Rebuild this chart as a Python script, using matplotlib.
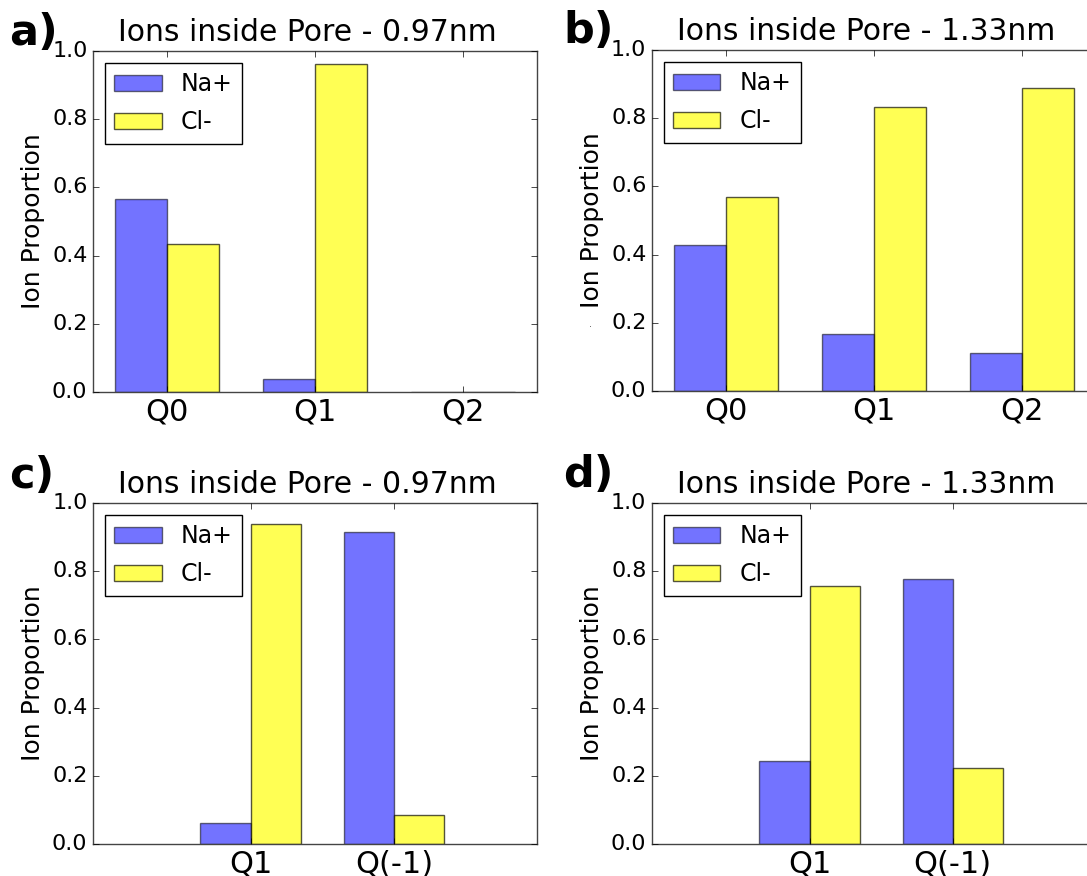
#bar charts of ion proportions inside the pore, two pore sizes x two charge sets
import numpy as np
import matplotlib
matplotlib.use('Agg')
import matplotlib.pyplot as plt

plt.style.use('classic')
plt.rcParams['font.family'] = ['DejaVu Sans']
plt.rcParams['figure.facecolor'] = 'white'
plt.rcParams['savefig.facecolor'] = 'white'

#charge states on the top row (a, b) and bottom row (c, d)
cats_top = ['Q0', 'Q1', 'Q2']
cats_bot = ['Q1', 'Q(-1)']

#proportion of Na+ / Cl- found inside the pore
na_a = [0.566, 0.037, 0.0]
cl_a = [0.433, 0.963, 0.0]
na_b = [0.429, 0.167, 0.110]
cl_b = [0.570, 0.833, 0.889]
na_c = [0.062, 0.914]
cl_c = [0.937, 0.085]
na_d = [0.243, 0.776]
cl_d = [0.756, 0.222]

titles = ['Ions inside Pore - 0.97nm', 'Ions inside Pore - 1.33nm',
          'Ions inside Pore - 0.97nm', 'Ions inside Pore - 1.33nm']
letters = ['a)', 'b)', 'c)', 'd)']

width = 0.35

fig = plt.figure(figsize=(10.87, 8.76), dpi=100)
boxes = [[0.0856, 0.5525, 0.4085, 0.3893],
         [0.5998, 0.5537, 0.4085, 0.3893],
         [0.0856, 0.0365, 0.4085, 0.3893],
         [0.5998, 0.0365, 0.4085, 0.3893]]
panels = [(cats_top, na_a, cl_a, (-0.5, 2.5)),
          (cats_top, na_b, cl_b, (-0.5, 2.5)),
          (cats_bot, na_c, cl_c, (-1.1, 2.0)),
          (cats_bot, na_d, cl_d, (-1.1, 2.0))]
letter_pos = [(0.008, 0.9486), (0.518, 0.9509), (0.008, 0.443), (0.518, 0.444)]

for box, (cats, na, cl, xl), title, let, lp in zip(boxes, panels, titles, letters, letter_pos):
    ax = fig.add_axes(box)
    ind = np.arange(len(cats))
    ax.bar(ind - width, na, width, align='edge', color='blue', edgecolor='black',
           alpha=0.55, linewidth=1, label='Na+')
    ax.bar(ind, cl, width, align='edge', color='yellow', edgecolor='black',
           alpha=0.67, linewidth=1, label='Cl-')
    ax.set_xlim(xl)
    ax.set_ylim(0, 1.0)
    ax.set_xticks(ind)
    ax.set_xticklabels(cats, fontsize=22)
    ax.set_yticks(np.arange(0, 1.01, 0.2))
    ax.tick_params(axis='y', labelsize=16)
    ax.set_ylabel('Ion Proportion', fontsize=18)
    ax.set_title(title, fontsize=21.5, x=0.482, y=1.01)
    ax.legend(loc='upper left', fontsize=17, fancybox=False, labelspacing=0.6)
    for s in ax.spines.values():
        s.set_edgecolor('#444444')
    fig.text(lp[0], lp[1], let, fontsize=31, fontweight='bold', va='baseline')

#small stray mark next to the b) ylabel
fig.text(0.5415, 0.6265, '.', fontsize=7, color='#555555')

fig.savefig('out.png', dpi=100)
